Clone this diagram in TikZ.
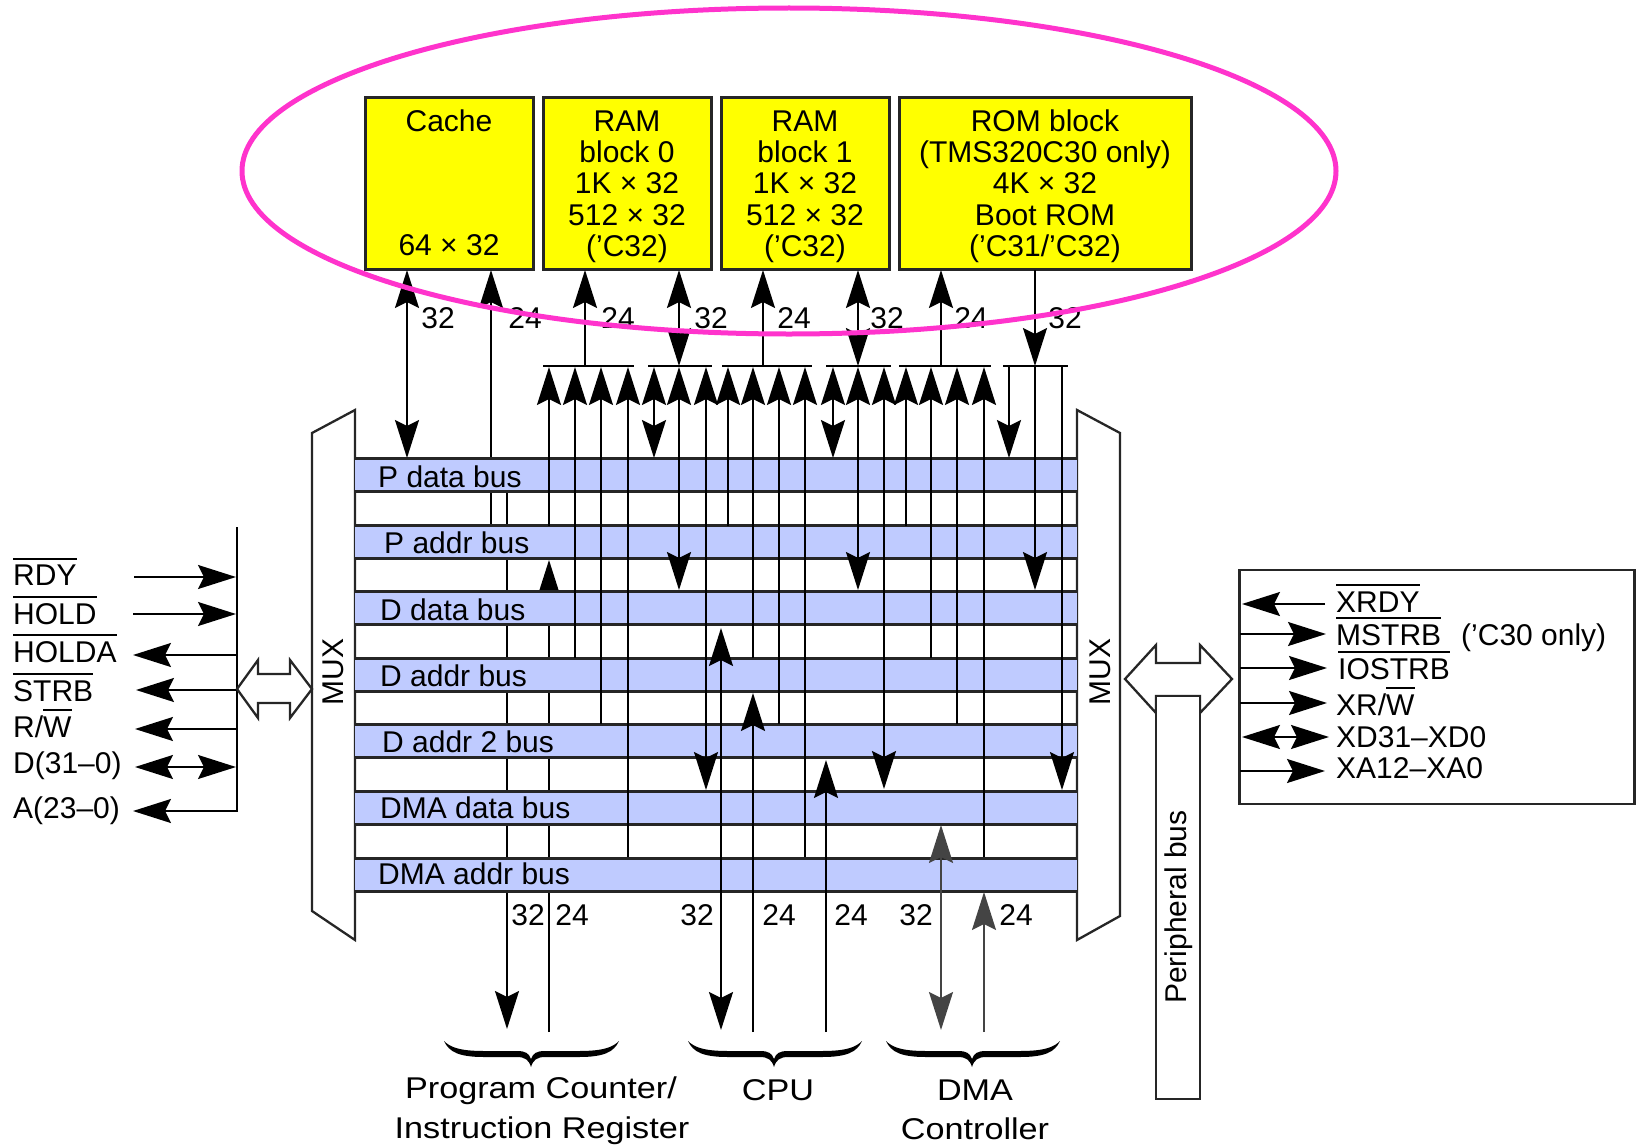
\documentclass[tikz,border=0pt]{standalone}
\usepackage{fontspec}
\setmainfont{Liberation Sans}
\newfontfamily\widefont[FakeStretch=1.14]{Liberation Sans}
\usetikzlibrary{arrows.meta,shapes.geometric}
\definecolor{bandblue}{HTML}{BFCBFF}
\definecolor{ringpink}{HTML}{FF33CC}
\definecolor{dmagray}{HTML}{444444}
\definecolor{memyellow}{HTML}{FFFF00}
\definecolor{inkline}{HTML}{262626}
\newcommand\ovl[1]{\begingroup\setbox0\hbox{#1}\rlap{\raisebox{26pt}{\rule{\wd0}{2pt}}}\box0\endgroup}
\newcommand\dn{\rule{0pt}{28pt}}
\newcommand\wire[5]{\coordinate (#1a) at (#2,#3); \coordinate (#1b) at (#2,#4); \draw[wire,#5] (#1a) -- (#1b);}
\newcommand\hwire[5]{\coordinate (#1a) at (#3,#2); \coordinate (#1b) at (#4,#2); \draw[wire,#5] (#1a) -- (#1b);}
\newcommand\curly[3]{\fill[black] (#1,1041) .. controls ({#1+5},1052) and ({#1+15},1057) .. ({#1+40},1057) -- ({#2-14},1057) .. controls ({#2-6},1057) and ({#2-2},1060) .. (#2,1067) .. controls ({#2+2},1060) and ({#2+6},1057) .. ({#2+14},1057) -- ({#3-40},1057) .. controls ({#3-15},1057) and ({#3-5},1052) .. (#3,1041) .. controls ({#3-6},1047) and ({#3-15},1051) .. ({#3-40},1051) -- ({#2+14},1051) .. controls ({#2+6},1051) and ({#2+2},1053) .. (#2,1059) .. controls ({#2-2},1053) and ({#2-6},1051) .. ({#2-14},1051) -- ({#1+40},1051) .. controls ({#1+15},1051) and ({#1+6},1047) .. (#1,1041) -- cycle;}
\tikzset{
  >={Stealth[length=38pt,width=24pt,inset=6pt]},
  every node/.style={font=\fontsize{30}{31.3}\selectfont,inner sep=0pt,text=black},
  wire/.style={line width=2.1pt,draw=black},
  graywire/.style={draw=dmagray,color=dmagray},
  memblock/.style={draw=inkline,line width=3pt,fill=memyellow,align=center,minimum height=172pt},
  band/.style={fill=bandblue,minimum width=722pt,minimum height=33pt},
  bandedge/.style={line width=2.6pt,draw=inkline},
  outline/.style={line width=2.3pt,draw=inkline,fill=white},
  lab/.style={anchor=base west},
  num/.style={anchor=center},
  wide/.style={font=\widefont\fontsize{30}{31}\selectfont,anchor=base}
}
\begin{document}
\begin{tikzpicture}[x=1pt,y=-1pt]
\useasboundingbox (0,0) rectangle (1636,1148);
% --- MUX bodies
\draw[outline] (355,410) -- (312,433) -- (312,911) -- (355,940) -- cycle;
\draw[outline] (1077,410) -- (1120,433) -- (1120,916) -- (1077,940) -- cycle;
\node[rotate=90] (muxl) at (333,672) {MUX};
\node[rotate=90] (muxr) at (1100,672) {MUX};
% --- memory blocks
\node[memblock,minimum width=168pt] (cache) at (449,183) {Cache\\[93pt]64 × 32};
\node[memblock,minimum width=168pt] (ram0) at (627,183) {\dn RAM\\block 0\\1K × 32\\512 × 32\\(’C32)};
\node[memblock,minimum width=168pt] (ram1) at (805,183) {\dn RAM\\block 1\\1K × 32\\512 × 32\\(’C32)};
\node[memblock,minimum width=292pt] (rom) at (1045,183) {\dn ROM block\\(TMS320C30 only)\\4K × 32\\Boot ROM\\(’C31/’C32)};
% --- wires hidden behind the bands
\wire{wa}{491}{526}{270}{->}
\wire{wb}{507}{492}{1029}{->}
\wire{wc}{549}{1032}{560}{->}
% --- bus bands
\foreach \nm/\yc in {pdata/475,paddr/542,ddata/608,daddr/675,dtwo/741,dmad/808,dmaa/875}{
  \node[band] (\nm) at (716,\yc) {};
  \draw[bandedge] (\nm.north west) -- (\nm.north east);
  \draw[bandedge] (\nm.south west) -- (\nm.south east);
}
\node[lab] (lpd) at (378,487) {P data bus};
\node[lab] (lpa) at (384,553) {P addr bus};
\node[lab] (ldd) at (380,620) {D data bus};
\node[lab] (lda) at (380,686) {D addr bus};
\node[lab] (ld2) at (382,752) {D addr 2 bus};
\node[lab] (ldm) at (380,818) {DMA data bus};
\node[lab] (lma) at (378,884) {DMA addr bus};
% --- tie bars
\foreach \nm/\xa/\xb in {ba/543/634,bb/648/712,bc/722/812,bd/826/891,be/899/991,bf/1003/1068}{
  \coordinate (\nm l) at (\xa,366); \coordinate (\nm r) at (\xb,366);
  \draw[wire] (\nm l) -- (\nm r);
}
% --- wires in front of the bands
\wire{c1}{407}{458}{270}{<->}
\wire{c2}{585}{366}{270}{->}
\wire{c3}{679}{366}{270}{<->}
\wire{c4}{763}{366}{270}{->}
\wire{c5}{858}{366}{270}{<->}
\wire{c6}{941}{366}{270}{->}
\wire{c7}{1035}{270}{366}{->}
\wire{d1}{549}{526}{367}{->}
\wire{d2}{575}{658}{367}{->}
\wire{d3}{601}{724}{367}{->}
\wire{d4}{628}{857}{367}{->}
\wire{d5}{654}{458}{367}{<->}
\wire{d6}{679}{590}{367}{<->}
\wire{d7}{706}{790}{367}{<->}
\wire{d8}{728}{526}{367}{->}
\wire{d9}{753}{658}{367}{->}
\wire{d10}{779}{724}{367}{->}
\wire{d11}{805}{857}{367}{->}
\wire{d12}{833}{458}{367}{<->}
\wire{d13}{858}{590}{367}{<->}
\wire{d14}{884}{789}{367}{<->}
\wire{d15}{906}{526}{367}{->}
\wire{d16}{931}{658}{367}{->}
\wire{d17}{957}{724}{367}{->}
\wire{d18}{984}{857}{367}{->}
\wire{d19}{1009}{366}{458}{->}
\wire{d20}{1035}{366}{590}{->}
\wire{d21}{1062}{366}{790}{->}
\wire{e1}{721}{1030}{628}{<->}
\wire{e2}{753}{1032}{693}{->}
\wire{e3}{826}{1032}{760}{->}
\wire{e4}{941}{1030}{825}{graywire,<->}
\wire{e5}{984}{1032}{892}{graywire,->}
% --- bus widths, upper
\node[num] (t1) at (438,318) {32};
\node[num] (t2) at (525,318) {24};
\node[num] (t3) at (618,318) {24};
\node[num] (t4) at (711,318) {32};
\node[num] (t5) at (794,318) {24};
\node[num] (t6) at (887,318) {32};
\node[num] (t7) at (971,318) {24};
\node[num] (t8) at (1065,318) {32};
% --- bus widths, lower
\node[num] (u1) at (528,915) {32};
\node[num] (u2) at (572,915) {24};
\node[num] (u3) at (697,915) {32};
\node[num] (u4) at (779,915) {24};
\node[num] (u5) at (851,915) {24};
\node[num] (u6) at (916,915) {32};
\node[num] (u7) at (1016,915) {24};
% --- left signals
\coordinate (sbtop) at (237,527); \coordinate (sbbot) at (237,811);
\draw[wire,line width=2.4pt] (sbtop) -- (sbbot);
\hwire{s1}{577}{134}{236}{->}
\hwire{s2}{614}{133}{236}{->}
\hwire{s3}{655}{237}{133}{->}
\hwire{s4}{690}{237}{136}{->}
\hwire{s5}{729}{237}{135}{->}
\hwire{s6}{767}{236}{135}{<->}
\hwire{s7}{811}{238}{133}{->}
\node[lab] (n1) at (13,585.5) {\ovl{RDY}};
\node[lab] (n2) at (13,624) {\ovl{HOLD}};
\node[lab] (n3) at (13,662) {\ovl{HOLDA}};
\node[lab] (n4) at (13,701) {\ovl{STRB}};
\node[lab] (n5) at (13,737) {R/\ovl{W}};
\node[lab] (n6) at (13,773) {D(31–0)};
\node[lab] (n7) at (13,818) {A(23–0)};
% --- block arrows
\draw[outline] (237,689) -- (258,660) -- (258,674) -- (290,674) -- (290,660) -- (312,689) -- (290,718) -- (290,703) -- (258,703) -- (258,718) -- cycle;
\draw[outline] (1125,679) -- (1156,645) -- (1156,663) -- (1200,663) -- (1200,645) -- (1232,679) -- (1200,713) -- (1200,696) -- (1156,696) -- (1156,713) -- cycle;
\node[outline,minimum width=44pt,minimum height=403pt] (periph) at (1178,897.5) {};
\node[rotate=90] (periphl) at (1179,907) {Peripheral bus};
% --- external bus box
\node[draw=inkline,line width=2.3pt,minimum width=395pt,minimum height=234pt] (xbox) at (1437,687) {};
\hwire{x1}{604}{1325}{1242}{->}
\hwire{x2}{634}{1240}{1326}{->}
\hwire{x3}{668}{1240}{1327}{->}
\hwire{x4}{703}{1240}{1327}{->}
\hwire{x5}{737}{1242}{1329}{<->}
\hwire{x6}{771}{1240}{1325}{->}
\node[lab] (m1) at (1336,612) {\ovl{XRDY}};
\node[lab] (m2) at (1336,645) {\ovl{MSTRB}};
\node[lab] (m2b) at (1461,645) {(’C30 only)};
\node[lab] (m3) at (1338,679) {\ovl{IOSTRB}};
\node[lab] (m4) at (1336,715) {XR/\ovl{W}};
\node[lab] (m5) at (1336,747) {XD31–XD0};
\node[lab] (m6) at (1336,778) {XA12–XA0};
% --- braces and their labels
\curly{444}{531}{619}
\curly{688}{774}{862}
\curly{886}{972}{1060}
\node[wide] (b1a) at (541,1098) {Program Counter/};
\node[wide] (b1b) at (542,1138) {Instruction Register};
\node[wide] (b2) at (778,1100) {CPU};
\node[wide] (b3a) at (975,1100) {DMA};
\node[wide] (b3b) at (975,1139) {Controller};
% --- ring round the memory blocks
\node[draw=ringpink,line width=5pt,ellipse,minimum width=1094pt,minimum height=326pt] (ring) at (789,171) {};
\end{tikzpicture}
\end{document}
